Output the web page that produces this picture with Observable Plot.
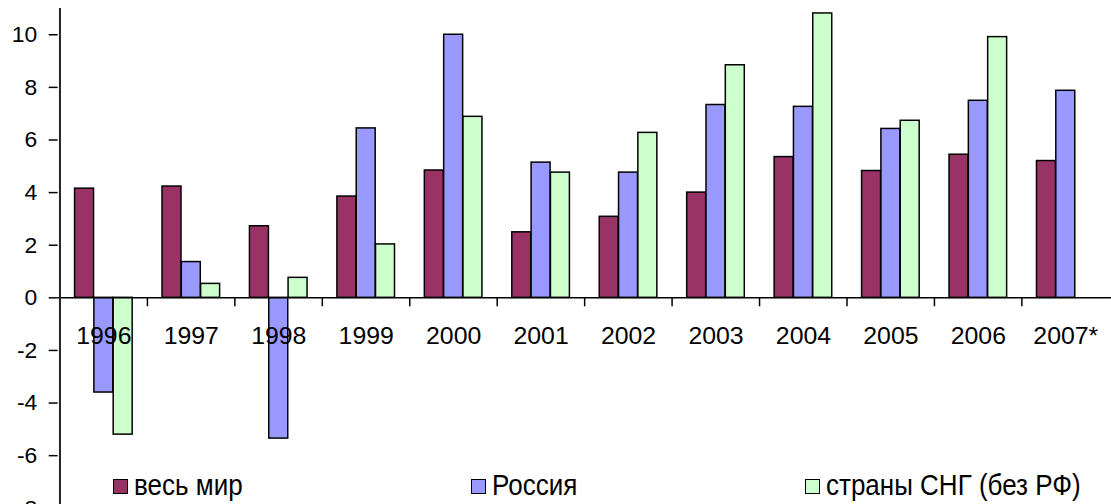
<!DOCTYPE html>
<html>
<head>
<meta charset="utf-8">
<script src="https://cdn.jsdelivr.net/npm/d3@7"></script>
<script src="https://cdn.jsdelivr.net/npm/@observablehq/plot@0.6"></script>
<style>
  html, body { margin: 0; padding: 0; background: #fff; overflow: hidden; }
  #wrap { position: relative; width: 1111px; height: 504px; overflow: hidden; }
  #legend { position: absolute; top: 469px; left: 0; width: 1111px; height: 32px;
            font-family: "Liberation Sans", Arial, sans-serif; font-size: 26px; color: #000; }
  .item { position: absolute; top: 0; height: 32px; display: flex; align-items: center; white-space: nowrap; }
  .sw { width: 13px; height: 13px; border: 1.5px solid #000; margin-right: 6px; margin-top: 3px; }
  .item span { display: inline-block; transform: scaleY(1.1); }
</style>
</head>
<body>
<div id="wrap"><div id="legend"></div></div>
<script>
const years = ["1996","1997","1998","1999","2000","2001","2002","2003","2004","2005","2006","2007*"];
const seriesNames = ["весь мир", "Россия", "страны СНГ (без РФ)"];
const world = [4.15, 4.23, 2.72, 3.85, 4.84, 2.49, 3.08, 4.0, 5.35, 4.82, 5.44, 5.2];
const russia = [-3.6, 1.36, -5.35, 6.44, 10.0, 5.14, 4.76, 7.33, 7.26, 6.42, 7.49, 7.87];
const cis = [-5.2, 0.53, 0.76, 2.03, 6.88, 4.76, 6.27, 8.84, 10.81, 6.73, 9.91, null];
const yTicks = [-8, -6, -4, -2, 0, 2, 4, 6, 8, 10];
const colors = ["#993366", "#9999FF", "#CCFFCC"];

const width = 1118, height = 520;
const marginLeft = 58, marginRight = 0, marginTop = 8, marginBottom = 9;
const yDomain = [-8, 11];
const step = (width - marginLeft - marginRight) / years.length;
const groupFrac = 0.66;
const barW = step * groupFrac / 3;
const outer = step * (1 - groupFrac) / 2;
const unitsPerPx = (yDomain[1] - yDomain[0]) / (height - marginTop - marginBottom);
const tickLen = 9 * unitsPerPx;

const allSeries = [world, russia, cis];
const barMarks = allSeries.map((vals, i) => {
  const data = years.map((y, j) => ({year: y, value: vals[j]})).filter(d => d.value != null);
  return Plot.barY(data, {
    x: "year", y: "value",
    fill: colors[i], stroke: "#000", strokeWidth: 1.5,
    insetLeft: outer + i * barW,
    insetRight: step - outer - (i + 1) * barW
  });
});

const chart = Plot.plot({
  width, height, marginLeft, marginRight, marginTop, marginBottom,
  style: {fontFamily: "'Liberation Sans', Arial, sans-serif", background: "transparent"},
  x: {type: "band", domain: years, padding: 0, axis: null, label: null},
  y: {domain: yDomain, axis: null, label: null},
  marks: [
    ...barMarks,
    Plot.ruleY([0], {stroke: "#000", strokeWidth: 1.5}),
    Plot.ruleX(years.slice(1), {x: d => d, y1: 0, y2: -tickLen, dx: -step / 2, stroke: "#000", strokeWidth: 1.5}),
    Plot.ruleX([years[0]], {x: d => d, dx: -step / 2, stroke: "#222", strokeWidth: 2}),
    Plot.axisY(yTicks, {anchor: "left", label: null, tickSize: 9, tickPadding: 12, fontSize: 23, fill: "#000", stroke: "#000", strokeWidth: 1.5, tickFormat: d => String(d)}),
    Plot.text(years, {x: d => d, y: 0, dy: 38, fontSize: 25, fill: "#000", text: d => d})
  ]
});
chart.style.position = "absolute";
chart.style.left = "0px";
chart.style.top = "0px";
document.getElementById("wrap").prepend(chart);

const legendX = [113, 471, 805];
const legend = document.getElementById("legend");
seriesNames.forEach((name, i) => {
  const it = document.createElement("div");
  it.className = "item";
  it.style.left = legendX[i] + "px";
  const sw = document.createElement("div");
  sw.className = "sw";
  sw.style.background = colors[i];
  const tx = document.createElement("span");
  tx.textContent = name;
  it.appendChild(sw);
  it.appendChild(tx);
  legend.appendChild(it);
});
</script>
</body>
</html>
